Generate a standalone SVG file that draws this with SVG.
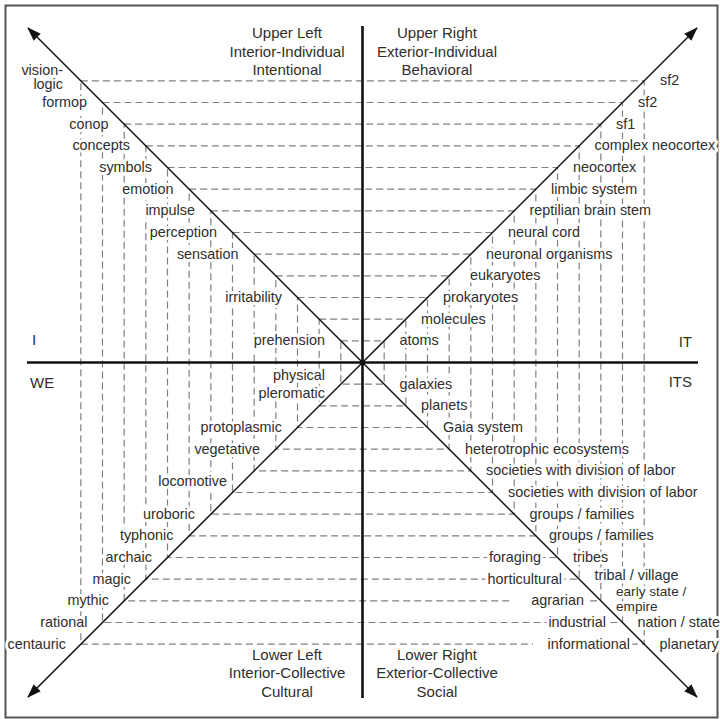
<svg xmlns="http://www.w3.org/2000/svg" width="720" height="719" viewBox="0 0 720 719">
<defs>
<marker id="arr" viewBox="0 0 14 10" refX="13" refY="5" markerWidth="14" markerHeight="10" markerUnits="userSpaceOnUse" orient="auto-start-reverse"><path d="M0,0 L14,5 L0,10 z" fill="#111"/></marker>
</defs>
<style>
.t{font-family:"Liberation Sans",Arial,sans-serif;font-size:14.4px;fill:#2e2e2e;stroke:#fff;stroke-width:6;stroke-linejoin:round;paint-order:stroke}
.e{text-anchor:end}
.h{font-size:15px;text-anchor:middle}
.g{fill:none;stroke:#808080;stroke-width:1.2;stroke-dasharray:7 4}
.ax{stroke:#111;stroke-width:2.6}
.dg{stroke:#111;stroke-width:1.5}
.bg{fill:#fff}
</style>
<rect x="5.5" y="5.5" width="712" height="712" fill="#fff" stroke="#555" stroke-width="2"/>
<g id="connectors">
<rect class="g" x="340.83" y="340.83" width="43.33" height="43.33"/>
<rect class="g" x="319.17" y="319.17" width="86.67" height="86.67"/>
<rect class="g" x="297.5" y="297.5" width="130" height="130"/>
<rect class="g" x="275.83" y="275.83" width="173.33" height="173.33"/>
<rect class="g" x="254.17" y="254.17" width="216.67" height="216.67"/>
<rect class="g" x="232.5" y="232.5" width="260" height="260"/>
<rect class="g" x="210.83" y="210.83" width="303.33" height="303.33"/>
<rect class="g" x="189.17" y="189.17" width="346.67" height="346.67"/>
<rect class="g" x="167.5" y="167.5" width="390" height="390"/>
<rect class="g" x="145.83" y="145.83" width="433.33" height="433.33"/>
<rect class="g" x="124.17" y="124.17" width="476.67" height="476.67"/>
<rect class="g" x="102.5" y="102.5" width="520" height="520"/>
<rect class="g" x="80.83" y="80.83" width="563.33" height="563.33"/>
</g>
<g id="titles">
<g id="upper-left"><text class="t h" x="287" y="38"><tspan x="287">Upper Left</tspan><tspan x="287" dy="18.5">Interior-Individual</tspan><tspan x="287" dy="18.5">Intentional</tspan></text></g>
<g id="upper-right"><text class="t h" x="437" y="38"><tspan x="437">Upper Right</tspan><tspan x="437" dy="18.5">Exterior-Individual</tspan><tspan x="437" dy="18.5">Behavioral</tspan></text></g>
<g id="lower-left"><text class="t h" x="287" y="659.5"><tspan x="287">Lower Left</tspan><tspan x="287" dy="18.5">Interior-Collective</tspan><tspan x="287" dy="18.5">Cultural</tspan></text></g>
<g id="lower-right"><text class="t h" x="437" y="659.5"><tspan x="437">Lower Right</tspan><tspan x="437" dy="18.5">Exterior-Collective</tspan><tspan x="437" dy="18.5">Social</tspan></text></g>
<g id="q-I"><text class="t" style="font-size:15px" x="32" y="345">I</text></g>
<g id="q-WE"><text class="t" style="font-size:15px" x="30" y="388">WE</text></g>
<g id="q-IT"><text class="t e" style="font-size:15px" x="692" y="347">IT</text></g>
<g id="q-ITS"><text class="t e" style="font-size:15px" x="692" y="386.5">ITS</text></g>
</g>
<g id="ul-labels">
<g id="vision-logic"><text class="t e" x="63" y="74.5"><tspan x="63">vision-</tspan><tspan x="63" dy="14.5">logic</tspan></text></g>
<g id="formop"><text class="t e" x="87" y="107">formop</text></g>
<g id="conop"><text class="t e" x="108.5" y="128.7">conop</text></g>
<g id="concepts"><text class="t e" x="130" y="150.3">concepts</text></g>
<g id="symbols"><text class="t e" x="152" y="172">symbols</text></g>
<g id="emotion"><text class="t e" x="173.5" y="193.7">emotion</text></g>
<g id="impulse"><text class="t e" x="195" y="215.3">impulse</text></g>
<g id="perception"><text class="t e" x="217" y="237">perception</text></g>
<g id="sensation"><text class="t e" x="238.5" y="258.7">sensation</text></g>
<g id="irritability"><text class="t e" x="282" y="302">irritability</text></g>
<g id="prehension"><text class="t e" x="325" y="345.3">prehension</text></g>
</g>
<g id="ur-labels">
<g id="sf2a"><text class="t" x="660" y="85.3">sf2</text></g>
<g id="sf2b"><text class="t" x="638" y="107">sf2</text></g>
<g id="sf1"><text class="t" x="616" y="128.7">sf1</text></g>
<g id="complex-neocortex"><text class="t" x="594.5" y="150.3">complex neocortex</text></g>
<g id="neocortex"><text class="t" x="573" y="172">neocortex</text></g>
<g id="limbic-system"><text class="t" x="551" y="193.7">limbic system</text></g>
<g id="reptilian-brain-stem"><text class="t" x="529.5" y="215.3">reptilian brain stem</text></g>
<g id="neural-cord"><text class="t" x="508" y="237">neural cord</text></g>
<g id="neuronal-organisms"><text class="t" x="486" y="258.7">neuronal organisms</text></g>
<g id="eukaryotes"><text class="t" x="470" y="280.3">eukaryotes</text></g>
<g id="prokaryotes"><text class="t" x="443" y="302">prokaryotes</text></g>
<g id="molecules"><text class="t" x="421" y="323.7">molecules</text></g>
<g id="atoms"><text class="t" x="399.5" y="345.3">atoms</text></g>
</g>
<g id="ll-labels">
<g id="physical-pleromatic"><text class="t e" x="325" y="379.5"><tspan x="325">physical</tspan><tspan x="325" dy="18">pleromatic</tspan></text></g>
<g id="protoplasmic"><text class="t e" x="282" y="432">protoplasmic</text></g>
<g id="vegetative"><text class="t e" x="260" y="453.7">vegetative</text></g>
<g id="locomotive"><text class="t e" x="227" y="485.5">locomotive</text></g>
<g id="uroboric"><text class="t e" x="195" y="518.7">uroboric</text></g>
<g id="typhonic"><text class="t e" x="173.5" y="540.3">typhonic</text></g>
<g id="archaic"><text class="t e" x="152" y="562">archaic</text></g>
<g id="magic"><text class="t e" x="131" y="583.7">magic</text></g>
<g id="mythic"><text class="t e" x="109" y="605.3">mythic</text></g>
<g id="rational"><text class="t e" x="87.5" y="627">rational</text></g>
<g id="centauric"><text class="t e" x="66" y="648.7">centauric</text></g>
</g>
<g id="lr-labels">
<g id="galaxies"><text class="t" x="399.5" y="388.7">galaxies</text></g>
<g id="planets"><text class="t" x="421" y="410.3">planets</text></g>
<g id="gaia-system"><text class="t" x="443" y="432">Gaia system</text></g>
<g id="heterotrophic-ecosystems"><text class="t" x="465" y="453.7">heterotrophic ecosystems</text></g>
<g id="societies-1"><text class="t" x="486" y="475.3">societies with division of labor</text></g>
<g id="societies-2"><text class="t" x="508" y="497">societies with division of labor</text></g>
<g id="groups-1"><text class="t" x="529.5" y="518.7">groups / families</text></g>
<g id="groups-2"><text class="t" x="549" y="540.3">groups / families</text></g>
<g id="tribes"><text class="t" x="573" y="562">tribes</text></g>
<g id="tribal-village"><text class="t" x="594.5" y="580">tribal / village</text></g>
<g id="early-state"><text class="t" style="font-size:13.6px" x="616" y="595.5"><tspan x="616">early state /</tspan><tspan x="616" dy="15.2">empire</tspan></text></g>
<g id="nation-state"><text class="t" x="637.5" y="627">nation / state</text></g>
<g id="planetary"><text class="t" x="659.5" y="648.7">planetary</text></g>
<g id="foraging"><text class="t e" x="541" y="562">foraging</text></g>
<g id="horticultural"><text class="t e" x="562" y="583.7">horticultural</text></g>
<g id="agrarian"><rect class="bg" x="513" y="594" width="20" height="14"/><text class="t e" x="584" y="605.3">agrarian</text></g>
<g id="industrial"><text class="t e" x="606" y="627">industrial</text></g>
<g id="informational"><rect class="bg" x="533" y="637" width="16" height="14"/><text class="t e" x="630" y="648.7">informational</text></g>
</g>
<g id="axes">
<line class="ax" x1="362.5" y1="26" x2="362.5" y2="698"/>
<line class="ax" x1="27" y1="362.5" x2="698" y2="362.5"/>
<line class="dg" x1="28" y1="28" x2="697" y2="697" marker-start="url(#arr)" marker-end="url(#arr)"/>
<line class="dg" x1="28" y1="697" x2="697" y2="28" marker-start="url(#arr)" marker-end="url(#arr)"/>
<circle cx="362.5" cy="362.5" r="2.6" fill="#111"/>
</g>
</svg>
